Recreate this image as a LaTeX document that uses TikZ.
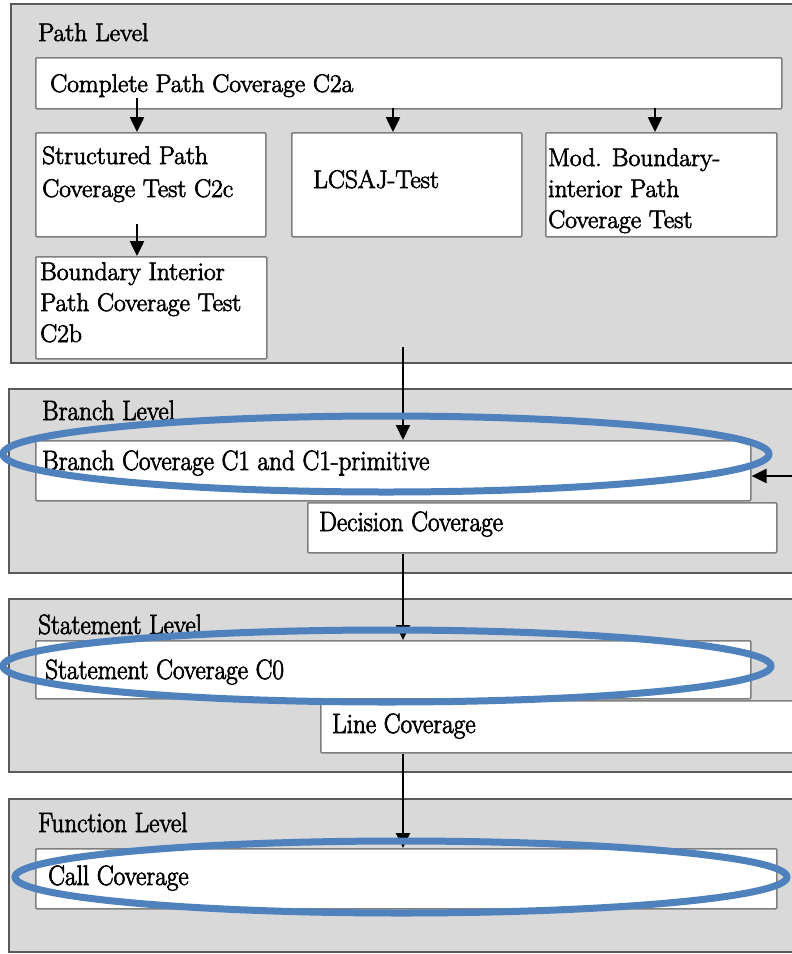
\documentclass[tikz,border=0pt]{standalone}
\usepackage{fontspec}
\setmainfont{Latin Modern Roman}[RawFeature={embolden=2.5}]
\usepackage{graphicx}
\usetikzlibrary{arrows.meta}
\definecolor{panelgray}{HTML}{D9D9D9}
\definecolor{panelline}{HTML}{5A5A5A}
\definecolor{boxline}{HTML}{7F7F7F}
\definecolor{ringblue}{HTML}{4F81BD}
\newcommand{\narrowtext}[1]{\scalebox{0.9}[1]{#1}}
\tikzset{
  panel/.style={draw=panelline, fill=panelgray, line width=2pt, anchor=north west, inner sep=0pt},
  box/.style={draw=boxline, fill=white, line width=1.6pt, rounded corners=1pt, anchor=north west, inner sep=0pt},
  lbl/.style={anchor=base west, inner sep=0pt, font=\fontsize{25.5}{31}\selectfont, align=left},
  lblwide/.style={lbl, font=\fontsize{25.5}{33}\selectfont},
  lbllow/.style={anchor=base west, inner sep=0pt, font=\fontsize{28}{32}\selectfont},
  arr/.style={-{Triangle[length=15pt,width=14pt]}, line width=2.5pt},
  ring/.style={draw=ringblue, line width=7pt},
}
\begin{document}
\begin{tikzpicture}[x=1pt,y=-1pt]
\useasboundingbox (0,0) rectangle (792,954);
\clip (0,0) rectangle (792,954);

% level panels
\node[panel, minimum width=800pt, minimum height=359pt] (pathlv) at (10,3) {};
\node[panel, minimum width=800pt, minimum height=184pt] (branchlv) at (8,388) {};
\node[panel, minimum width=800pt, minimum height=173pt] (stmtlv) at (8,598) {};
\node[panel, minimum width=800pt, minimum height=153pt] (funclv) at (8,798) {};

% coverage boxes
\node[box, minimum width=746pt, minimum height=51pt] (cp) at (35,57) {};
\node[box, minimum width=230pt, minimum height=104pt] (st) at (35,132) {};
\node[box, minimum width=230pt, minimum height=104pt] (lc) at (291,132) {};
\node[box, minimum width=231pt, minimum height=104pt] (mb) at (545,132) {};
\node[box, minimum width=231pt, minimum height=102pt] (bi) at (35,256) {};
\node[box, minimum width=715pt, minimum height=60pt] (bc) at (35,440) {};
\node[box, minimum width=469pt, minimum height=50pt] (dc) at (307,502) {};
\node[box, minimum width=715pt, minimum height=58pt] (sc) at (35,640) {};
\node[box, minimum width=480pt, minimum height=52pt] (lnc) at (320,700) {};
\node[box, minimum width=741pt, minimum height=60pt] (cc) at (35,848) {};

% connectors
\coordinate (a1) at (137,98);
\coordinate (a2) at (393,108);
\coordinate (a3) at (655,108);
\coordinate (a4) at (137,224);
\coordinate (p1) at (403,347);
\coordinate (rin) at (800,476);
\draw[arr] (a1) -- (a1 |- st.north);
\draw[arr] (a2) -- (a2 |- lc.north);
\draw[arr] (a3) -- (a3 |- mb.north);
\draw[arr] (a4) -- (a4 |- bi.north);
\draw[arr, line width=2pt] (p1) -- (p1 |- bc.north);
\draw[arr, line width=2pt] (dc.south -| p1) -- (p1 |- sc.north);
\draw[arr, line width=2pt] (lnc.south -| p1) -- (p1 |- cc.north);
\draw[arr] (rin) -- (rin -| bc.east);

% labels (multi-line labels are placed by the baseline of their last line)
\node[lbl] (tpath) at (38,41) {Path Level};
\node[lbl] (tcp) at (50,92) {Complete Path Coverage C2a};
\node[lblwide] (tst) at (42,197) {Structured Path\\Coverage Test C2c};
\node[lbl] (tlc) at (313,188) {LCSAJ-Test};
\node[lbl] (tmb) at (548,228) {Mod. Boundary-\\interior Path\\Coverage Test};
\node[lbl] (tbi) at (40,342) {Boundary Interior\\Path Coverage Test\\C2b};
\node[lbllow] (tbranch) at (42,420) {\narrowtext{Branch Level}};
\node[lbllow] (tbc) at (42,470) {\narrowtext{Branch Coverage C1 and C1-primitive}};
\node[lbllow] (tdc) at (319,531) {\narrowtext{Decision Coverage}};
\node[lbllow] (tstmt) at (38,634) {\narrowtext{Statement Level}};
\node[lbllow] (tsc) at (45,679) {\narrowtext{Statement Coverage C0}};
\node[lbllow] (tlnc) at (332,733) {\narrowtext{Line Coverage}};
\node[lbllow] (tfunc) at (38,832) {\narrowtext{Function Level}};
\node[lbllow] (tcc) at (48,885) {\narrowtext{Call Coverage}};

% highlight rings
\draw[ring] (386,454) ellipse [x radius=383pt, y radius=38pt];
\draw[ring] (387,666) ellipse [x radius=384pt, y radius=36pt];
\draw[ring] (401,877) ellipse [x radius=386pt, y radius=36pt];
\end{tikzpicture}
\end{document}
